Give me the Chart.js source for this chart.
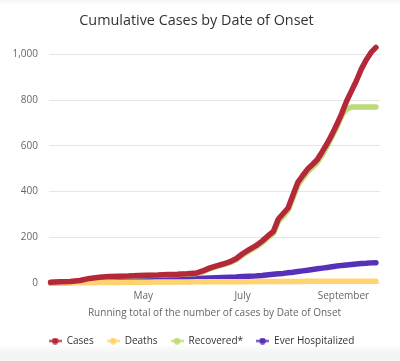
<!DOCTYPE html>
<html>
<head>
<meta charset="utf-8">
<script src="https://cdn.jsdelivr.net/npm/chart.js@4.4.0/dist/chart.umd.min.js"></script>
<style>
  html, body { margin: 0; padding: 0; }
  body {
    width: 400px; height: 361px;
    background: linear-gradient(to bottom, #f3f3f3 0px, #ffffff 4px, #ffffff 344px, #f4f4f4 353px);
  }
  #wrap { position: relative; width: 400px; height: 361px; }
</style>
</head>
<body>
<div id="wrap"><canvas id="onset-chart"></canvas></div>
<script>
// days counted from March 1 (May 1 = 61, July 1 = 122, Sept 1 = 184)
var days = [4,10,16,22,28,34,40,46,52,58,64,70,76,82,88,94,98,102,106,110,114,118,122,126,130,134,138,141,144,147,150,153,156,159,162,165,168,171,174,177,180,183,186,189,192,195,198,201,204];

var cases = [3,5,7,11,20,25,28,30,31,33,34,35,37,38,40,44,54,66,75,83,92,106,128,146,162,183,208,226,280,304,328,385,440,470,498,518,540,574,610,650,694,742,796,840,884,935,975,1008,1030];
var deaths = [0,0,1,1,1,2,2,2,3,3,3,4,4,4,4,5,5,5,5,6,6,6,6,6,7,7,7,7,7,7,7,7,7,7,8,8,8,8,8,8,8,8,8,8,8,8,8,8,8];
var recovered = [2,4,6,9,17,23,26,28,30,32,33,34,36,37,39,42,50,62,72,80,88,101,122,140,156,176,200,218,268,292,318,372,425,458,486,506,528,560,598,640,682,732,760,770,770,770,770,770,770];
var hospitalized = [0,1,2,4,6,8,10,11,12,13,14,15,16,17,18,20,21,22,23,24,25,26,28,30,31,33,36,38,40,42,45,47,50,53,56,59,62,65,68,71,74,77,79,81,83,85,86,88,89];

var seriesNames = ["Cases", "Deaths", "Recovered*", "Ever Hospitalized"];
var seriesColors = ["#b5283a", "#ffd46e", "#bddb76", "#5630b8"];

var monthTicks = [61, 122, 184];
var monthNames = ["May", "July", "September"];
var yTicks = [0, 200, 400, 600, 800, 1000];

function toPoints(vals){
  return vals.map(function(v, i){ return {x: days[i], y: v}; });
}

// little line-with-dot marker for the legend
function legendMarker(color){
  var c = document.createElement("canvas");
  c.width = 13; c.height = 7;
  var g = c.getContext("2d");
  g.strokeStyle = color;
  g.lineWidth = 2;
  g.beginPath(); g.moveTo(0, 3.5); g.lineTo(13, 3.5); g.stroke();
  g.fillStyle = color;
  g.beginPath(); g.arc(6.5, 3.5, 3.2, 0, Math.PI * 2); g.fill();
  return c;
}
var markers = seriesColors.map(legendMarker);

var allSeries = [cases, deaths, recovered, hospitalized];
var datasets = allSeries.map(function(vals, i){
  return {
    label: seriesNames[i],
    data: toPoints(vals),
    borderColor: seriesColors[i],
    backgroundColor: seriesColors[i],
    borderWidth: 5.5,
    borderCapStyle: "round",
    borderJoinStyle: "round",
    pointRadius: 0,
    tension: 0,
    fill: false,
    clip: false
  };
});

var fontFam = "'Open Sans', 'Noto Sans', sans-serif";

var chart = new Chart(document.getElementById("onset-chart"), {
  type: "line",
  data: { datasets: datasets },
  options: {
    responsive: true,
    maintainAspectRatio: false,
    animation: false,
    layout: { padding: { left: 13, right: 20, top: 12, bottom: 5 } },
    plugins: {
      title: {
        display: true,
        text: "Cumulative Cases by Date of Onset",
        color: "#333333",
        font: { family: fontFam, size: 14.4, weight: "normal" },
        padding: { top: 0, bottom: 25 }
      },
      legend: {
        position: "bottom",
        labels: {
          usePointStyle: true,
          pointStyleWidth: 13,
          padding: 13,
          color: "#333333",
          font: { family: fontFam, size: 10 },
          generateLabels: function(chart){
            var items = Chart.defaults.plugins.legend.labels.generateLabels(chart);
            items.forEach(function(it, i){ it.pointStyle = markers[i]; });
            return items;
          }
        }
      },
      tooltip: { enabled: false }
    },
    scales: {
      x: {
        type: "linear",
        min: 3,
        max: 206.5,
        grid: { display: false, drawTicks: false },
        border: { display: false },
        afterBuildTicks: function(axis){
          axis.ticks = monthTicks.map(function(v){ return {value: v}; });
        },
        ticks: {
          color: "#666666",
          font: { family: fontFam, size: 10 },
          padding: 7,
          maxRotation: 0,
          callback: function(v){
            var k = monthTicks.indexOf(v);
            return k >= 0 ? monthNames[k] : "";
          }
        },
        title: {
          display: true,
          text: "Running total of the number of cases by Date of Onset",
          color: "#666666",
          font: { family: fontFam, size: 10 },
          padding: { top: -2, bottom: 4 }
        }
      },
      y: {
        min: 0,
        max: 1000,
        grid: { color: "#e6e6e6", drawTicks: false },
        border: { display: false },
        afterBuildTicks: function(axis){
          axis.ticks = yTicks.map(function(v){ return {value: v}; });
        },
        afterFit: function(axis){ axis.width = 36; },
        ticks: {
          color: "#666666",
          font: { family: fontFam, size: 10 },
          padding: 11,
          callback: function(v){ return v.toLocaleString("en-US"); }
        }
      }
    }
  }
});

// legend sits a little right of the plot-centred box in the original
var drawLegend = chart.legend.draw;
chart.legend.draw = function(){
  var ctx = this.ctx;
  ctx.save();
  ctx.translate(5, 0);
  drawLegend.apply(this, arguments);
  ctx.restore();
};
chart.draw();
</script>
</body>
</html>
